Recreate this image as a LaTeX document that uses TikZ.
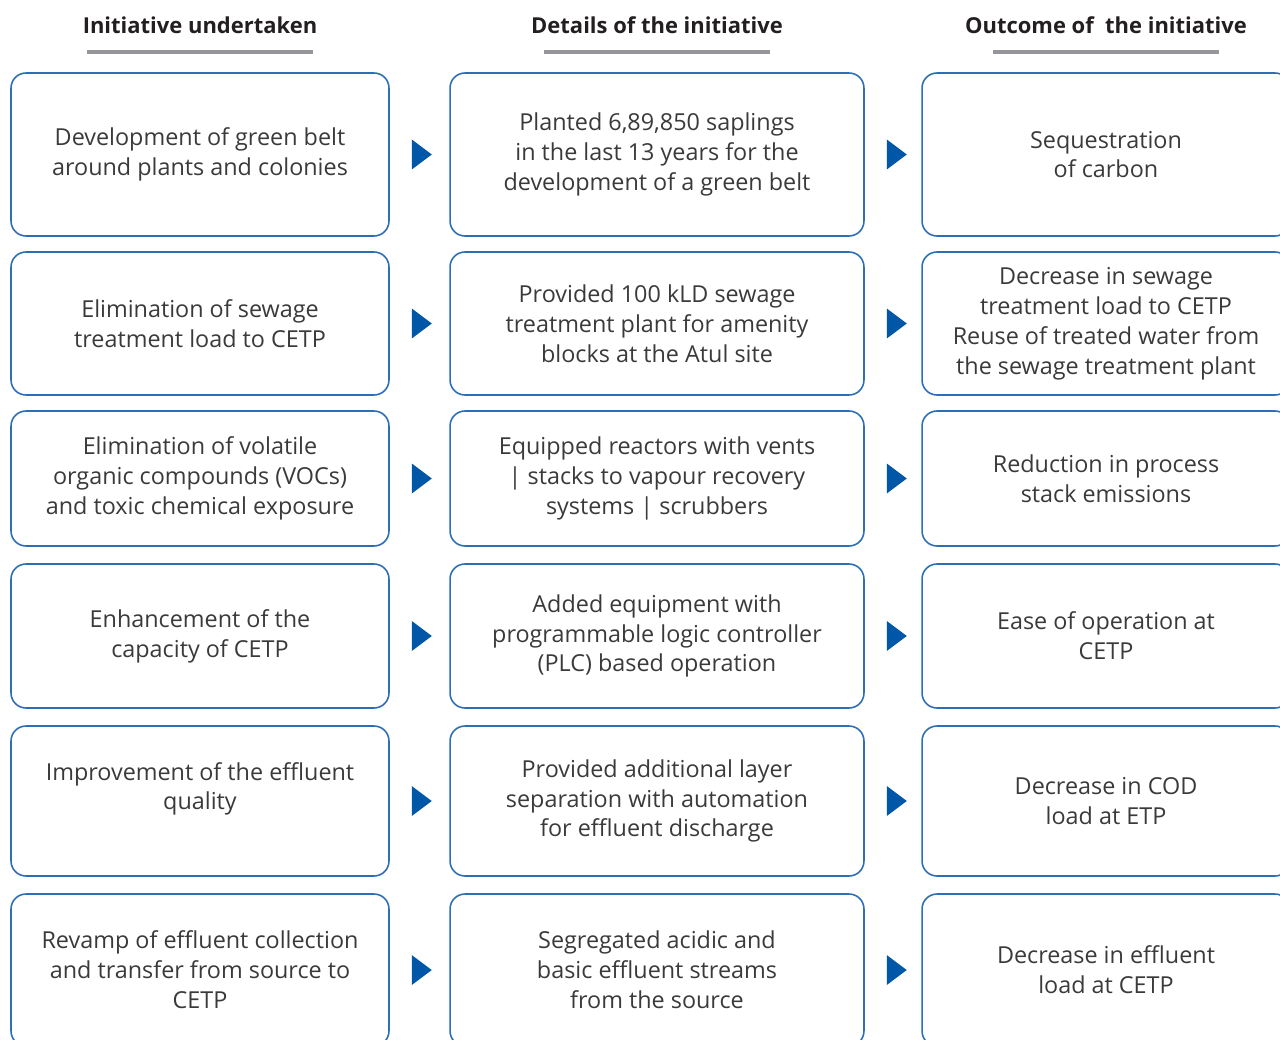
\documentclass[tikz,border=0pt]{standalone}
\usepackage{fontspec}
\setmainfont{Open Sans}
\usepackage{tikz}
\usetikzlibrary{calc}
\definecolor{boxblue}{HTML}{2C6FB7}
\definecolor{tipblue}{HTML}{0057A8}
\definecolor{bodygray}{HTML}{3A3A3A}
\definecolor{headgray}{HTML}{231F20}
\definecolor{bargray}{HTML}{96969A}

\begin{document}
\begin{tikzpicture}[x=0.02cm, y=-0.02cm,
    box/.style={draw=boxblue, line width=0.9pt, rounded corners=8.5pt, align=center,
        text=bodygray, inner sep=0pt, minimum height=#1,
        font=\fontsize{13.3}{17}\selectfont},
    boxa/.style={box=#1, minimum width=7.56cm},
    boxb/.style={box=#1, minimum width=8.28cm},
    boxc/.style={box=#1, minimum width=7.36cm},
    head/.style={text=headgray, font=\fontsize{12.5}{15}\selectfont\bfseries},
    bar/.style={bargray, line width=2.8pt},
    tip/.style={fill=tipblue}]
    \clip (0,0) rectangle (1280,1040);

    % Column headings
    \node[head] (h1) at (200,25) {Initiative undertaken};
    \node[head] (h2) at (657,25) {Details of the initiative};
    \node[head] (h3) at (1106,25) {Outcome of~ the initiative};
    \draw[bar] ($(h1)+(-113,27)$) -- ++(226,0);
    \draw[bar] ($(h2)+(-113,27)$) -- ++(226,0);
    \draw[bar] ($(h3)+(-113,27)$) -- ++(226,0);

    % Row 1
    \node[boxa=3.26cm] (a1) at (200,154.5) {Development of green belt\\around plants and colonies};
    \node[boxb=3.26cm] (b1) at (657,154.5) {Planted 6,89,850 saplings\\in the last 13 years for the\\development of a green belt};
    \node[boxc=3.26cm] (c1) at (1106,154.5) {Sequestration\\of carbon};

    % Row 2
    \node[boxa=2.86cm] (a2) at (200,323.5) {Elimination of sewage\\treatment load to CETP};
    \node[boxb=2.86cm] (b2) at (657,323.5) {Provided 100 kLD sewage\\treatment plant for amenity\\blocks at the Atul site};
    \node[boxc=2.86cm] (c2) at (1106,323.5) {Decrease in sewage\\treatment load to CETP\\Reuse of treated water from\\the sewage treatment plant};

    % Row 3
    \node[boxa=2.70cm] (a3) at (200,478.5) {Elimination of volatile\\organic compounds (VOCs)\\and toxic chemical exposure};
    \node[boxb=2.70cm] (b3) at (657,478.5) {Equipped reactors with vents\\| stacks to vapour recovery\\systems | scrubbers};
    \node[boxc=2.70cm] (c3) at (1106,478.5) {Reduction in process\\stack emissions};

    % Row 4
    \node[boxa=2.88cm] (a4) at (200,636) {Enhancement of the\\capacity of CETP};
    \node[boxb=2.88cm] (b4) at (657,636) {Added equipment with\\programmable logic controller\\(PLC) based operation};
    \node[boxc=2.88cm] (c4) at (1106,636) {Ease of operation at\\CETP};

    % Row 5
    \node[boxa=3.00cm] (a5) at (200,801) {Improvement of the effluent\\quality\\\mbox{}};
    \node[boxb=3.00cm] (b5) at (657,801) {Provided additional layer\\separation with automation\\for effluent discharge};
    \node[boxc=3.00cm] (c5) at (1106,801) {Decrease in COD\\load at ETP};

    % Row 6
    \node[boxa=3.04cm] (a6) at (200,970) {Revamp of effluent collection\\and transfer from source to\\CETP};
    \node[boxb=3.04cm] (b6) at (657,970) {Segregated acidic and\\basic effluent streams\\from the source};
    \node[boxc=3.04cm] (c6) at (1106,970) {Decrease in effluent\\load at CETP};

    % Arrow heads between the columns
    \fill[tip] ($(a1.east)+(22,-15)$) -- ++(20,15) -- ++(-20,15) -- cycle;
    \fill[tip] ($(b1.east)+(22,-15)$) -- ++(20,15) -- ++(-20,15) -- cycle;
    \fill[tip] ($(a2.east)+(22,-15)$) -- ++(20,15) -- ++(-20,15) -- cycle;
    \fill[tip] ($(b2.east)+(22,-15)$) -- ++(20,15) -- ++(-20,15) -- cycle;
    \fill[tip] ($(a3.east)+(22,-15)$) -- ++(20,15) -- ++(-20,15) -- cycle;
    \fill[tip] ($(b3.east)+(22,-15)$) -- ++(20,15) -- ++(-20,15) -- cycle;
    \fill[tip] ($(a4.east)+(22,-15)$) -- ++(20,15) -- ++(-20,15) -- cycle;
    \fill[tip] ($(b4.east)+(22,-15)$) -- ++(20,15) -- ++(-20,15) -- cycle;
    \fill[tip] ($(a5.east)+(22,-15)$) -- ++(20,15) -- ++(-20,15) -- cycle;
    \fill[tip] ($(b5.east)+(22,-15)$) -- ++(20,15) -- ++(-20,15) -- cycle;
    \fill[tip] ($(a6.east)+(22,-15)$) -- ++(20,15) -- ++(-20,15) -- cycle;
    \fill[tip] ($(b6.east)+(22,-15)$) -- ++(20,15) -- ++(-20,15) -- cycle;
\end{tikzpicture}
\end{document}
